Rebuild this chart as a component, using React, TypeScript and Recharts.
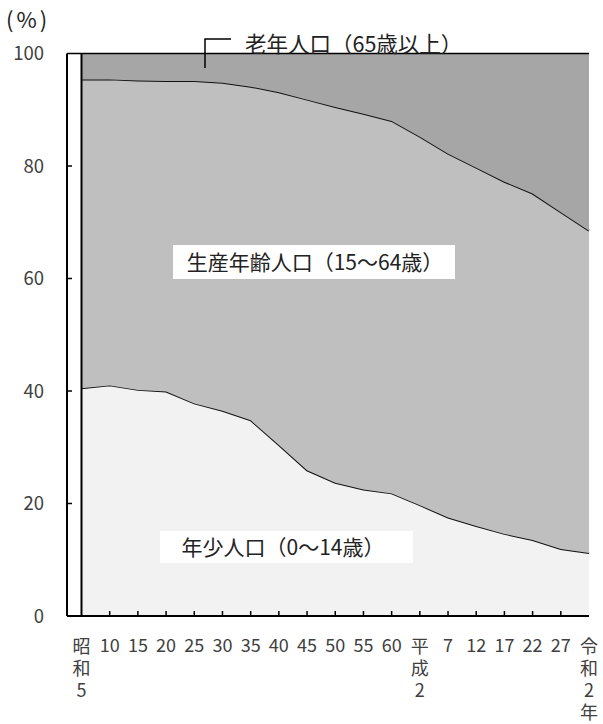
import React from 'react';
import { AreaChart, Area, XAxis, YAxis, ReferenceLine } from 'recharts';

const categories = ['昭和5', '10', '15', '20', '25', '30', '35', '40', '45', '50', '55', '60', '平成2', '7', '12', '17', '22', '27', '令和2年'];
const verticalLabels = ['昭和5', '平成2', '令和2年'];
const young = [40.5, 41.0, 40.2, 39.9, 37.8, 36.5, 34.8, 30.4, 25.9, 23.7, 22.5, 21.8, 19.7, 17.5, 16.0, 14.6, 13.5, 11.9, 11.2];
const working = [54.9, 54.4, 55.0, 55.2, 57.3, 58.3, 59.3, 62.7, 65.9, 66.8, 66.8, 66.2, 65.5, 64.7, 63.7, 62.6, 61.6, 59.9, 57.3];
const elderly = [4.6, 4.6, 4.8, 4.9, 4.9, 5.2, 5.9, 6.9, 8.2, 9.5, 10.7, 12.0, 14.8, 17.8, 20.3, 22.8, 24.9, 28.2, 31.5];
const yTicks = [0, 20, 40, 60, 80, 100];

const data = categories.map((c, i) => ({ cat: c, young: young[i], working: working[i], elderly: elderly[i] }));

const FONT = '"Noto Sans CJK JP", "Noto Sans", sans-serif';

const XTick = (props: any) => {
  const { x, y, payload, index } = props;
  const label = String(payload.value);
  const vertical = verticalLabels.includes(label);
  return (
    <g>
      {index > 0 && index < categories.length - 1 && (
        <line x1={x} y1={y} x2={x} y2={y - 5} stroke="#000" strokeWidth={1.5} />
      )}
      {vertical ? (
        <text
          x={x}
          y={y + 21}
          fontSize={18}
          fill="#404040"
          fontFamily={FONT}
          letterSpacing={4}
          style={{ writingMode: 'vertical-rl', textOrientation: 'upright' } as any}
        >
          {label}
        </text>
      ) : (
        <text x={x} y={y + 36} textAnchor="middle" fontSize={18} fill="#404040" fontFamily={FONT}>
          {label}
        </text>
      )}
    </g>
  );
};

const YTick = (props: any) => {
  const { x, y, payload } = props;
  return (
    <g>
      {payload.value !== 100 && payload.value !== 0 && (
        <line x1={x} y1={y} x2={x + 5} y2={y} stroke="#000" strokeWidth={1.5} />
      )}
      <text x={44} y={y + 6.5} textAnchor="end" fontSize={18.5} fill="#404040" fontFamily={FONT}>
        {payload.value}
      </text>
    </g>
  );
};

export default function App() {
  return (
    <div style={{ position: 'absolute', left: 0, top: 0, width: 603, height: 724, background: '#fff', fontFamily: FONT }}>
      <AreaChart width={603} height={724} data={data} margin={{ top: 53.5, right: 14, bottom: 8, left: 0 }}>
        <XAxis
          dataKey="cat"
          type="category"
          padding={{ left: 14.5, right: 0 }}
          axisLine={{ stroke: '#000', strokeWidth: 2 }}
          tickLine={false}
          tickSize={0}
          tickMargin={0}
          interval={0}
          height={100}
          tick={<XTick />}
        />
        <YAxis
          type="number"
          domain={[0, 100]}
          ticks={yTicks}
          width={67}
          axisLine={{ stroke: '#000', strokeWidth: 2 }}
          tickLine={false}
          tickSize={0}
          tickMargin={0}
          tick={<YTick />}
        />
        <Area type="linear" dataKey="young" stackId="a" fill="#f2f2f2" fillOpacity={1} stroke="#111" strokeWidth={2} isAnimationActive={false} />
        <Area type="linear" dataKey="working" stackId="a" fill="#bfbfbf" fillOpacity={1} stroke="#111" strokeWidth={2} isAnimationActive={false} />
        <Area type="linear" dataKey="elderly" stackId="a" fill="#a6a6a6" fillOpacity={1} stroke="none" isAnimationActive={false} />
        <ReferenceLine y={100} stroke="#000" strokeWidth={1.5} />
        <ReferenceLine x="昭和5" stroke="#000" strokeWidth={2} />
      </AreaChart>
      <svg width={603} height={724} style={{ position: 'absolute', left: 0, top: 0, pointerEvents: 'none' }}>
        <text x={6} y={28} fontSize={22} fill="#222" fontFamily={FONT} letterSpacing={3}>(%)</text>
        <path d="M231,39 H205 V68" fill="none" stroke="#000" strokeWidth={1.5} />
        <text x={245} y={52} fontSize={21.5} fill="#222" fontFamily={FONT}>老年人口（65歳以上）</text>
        <rect x={173} y={245} width={282} height={34} fill="#fff" />
        <text x={315} y={269.5} textAnchor="middle" fontSize={21} fill="#222" fontFamily={FONT}>生産年齢人口（15～64歳）</text>
        <rect x={160} y={531} width={253} height={32} fill="#fff" />
        <text x={283} y={554.5} textAnchor="middle" fontSize={21} fill="#222" fontFamily={FONT}>年少人口（0～14歳）</text>
      </svg>
    </div>
  );
}
